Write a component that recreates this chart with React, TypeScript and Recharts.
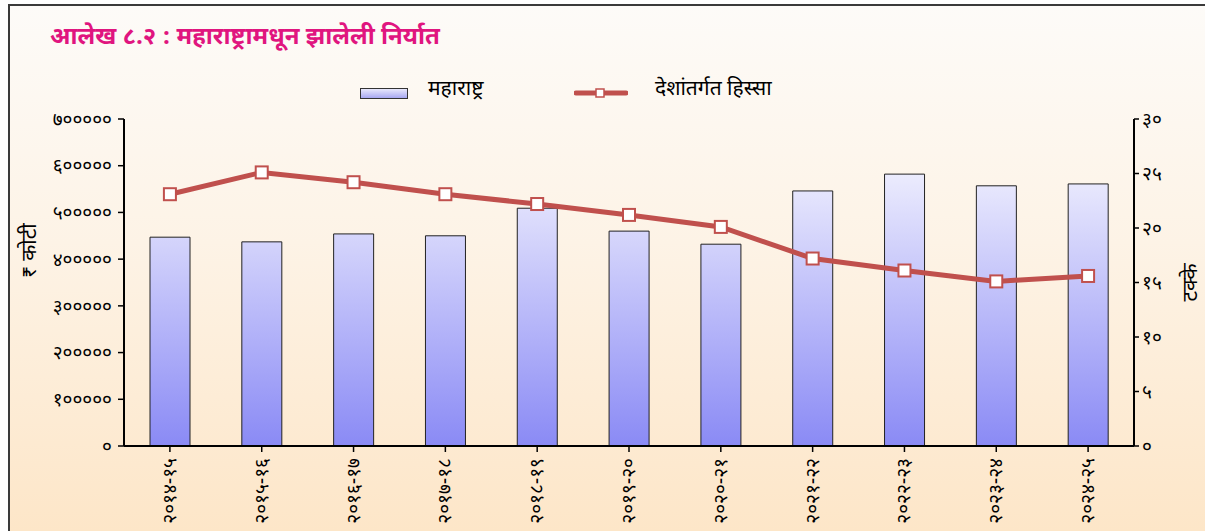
import { ComposedChart, Bar, Line, XAxis, YAxis } from 'recharts';

const years = ['२०१४-१५', '२०१५-१६', '२०१६-१७', '२०१७-१८', '२०१८-१९', '२०१९-२०', '२०२०-२१', '२०२१-२२', '२०२२-२३', '२०२३-२४', '२०२४-२५'];
const exports = [447000, 437000, 454000, 450000, 509000, 460000, 432000, 546000, 582000, 557000, 561000];
const share = [23.1, 25.1, 24.2, 23.1, 22.2, 21.2, 20.1, 17.2, 16.1, 15.1, 15.6];
const leftTicks = [0, 100000, 200000, 300000, 400000, 500000, 600000, 700000];
const rightTicks = [0, 5, 10, 15, 20, 25, 30];

const DIGITS = '०१२३४५६७८९';
const deva = (n: number) => String(n).replace(/[0-9]/g, d => DIGITS[Number(d)]);

const data = years.map((y, i) => ({ year: y, exp: exports[i], share: share[i] }));

const RED = '#c0504d';
const FONT = '"Noto Sans Devanagari", "Lohit Devanagari", "Noto Sans", sans-serif';

const W = 1195;
const H = 525;

function XTick({ x, y, payload }: any) {
  return (
    <g transform={`translate(${x},${y})`}>
      <text transform="rotate(-90)" x={-4} y={6} textAnchor="end" fontSize={19} fill="#000" fontFamily={FONT}>
        {payload.value}
      </text>
    </g>
  );
}

function SquareDot({ cx, cy }: any) {
  if (cx == null || cy == null) return null;
  return <rect x={cx - 6} y={cy - 6} width={12} height={12} fill="#fff" stroke={RED} strokeWidth={2} />;
}

// left axis title sits a bit above the middle of the axis, like the original
function LeftTitle({ viewBox }: any) {
  const cx = viewBox.x + 22;
  const cy = viewBox.y + viewBox.height / 2 - 32;
  return (
    <text transform={`translate(${cx},${cy}) rotate(-90)`} textAnchor="middle" fontSize={21} fill="#000" fontFamily={FONT}>
      ₹ कोटी
    </text>
  );
}

export default function App() {
  return (
    <div
      style={{
        position: 'absolute', left: 8, top: 4, width: 1197, height: 527, boxSizing: 'border-box',
        borderLeft: '2px solid #3a3a3a', borderTop: '2px solid #3a3a3a',
        background: 'linear-gradient(to bottom, #fdfbf8 0%, #fdf3e6 45%, #fde6c8 100%)',
        fontFamily: FONT,
      }}
    >
      <div style={{ position: 'absolute', left: 40, top: 16, fontSize: 24, fontWeight: 700, color: '#e0157f', whiteSpace: 'nowrap' }}>
        आलेख ८.२ : महाराष्ट्रामधून झालेली निर्यात
      </div>
      <div style={{ position: 'absolute', left: 0, top: 70, fontSize: 21, color: '#000', whiteSpace: 'nowrap' }}>
        <div style={{ position: 'absolute', left: 350, top: 12, width: 46, height: 9, border: '1px solid #333', background: 'linear-gradient(to bottom, #e8e8fc, #a8a8f2)' }} />
        <span style={{ position: 'absolute', left: 418, top: 0 }}>महाराष्ट्र</span>
        <svg style={{ position: 'absolute', left: 564, top: 9 }} width={54} height={16}>
          <line x1={2} y1={8} x2={52} y2={8} stroke={RED} strokeWidth={5} strokeLinecap="round" />
          <rect x={22} y={4} width={8} height={8} fill="#fff" stroke={RED} strokeWidth={1.5} />
        </svg>
        <span style={{ position: 'absolute', left: 645, top: 0 }}>देशांतर्गत हिस्सा</span>
      </div>
      <ComposedChart width={W} height={H} data={data} margin={{ top: 113, right: 15, left: 4, bottom: 15 }}>
        <defs>
          <linearGradient id="barFill" gradientUnits="userSpaceOnUse" x1={0} y1={113} x2={0} y2={440}>
            <stop offset="0%" stopColor="#ffffff" />
            <stop offset="100%" stopColor="#8a8af5" />
          </linearGradient>
        </defs>
        <XAxis
          dataKey="year"
          height={70}
          interval={0}
          tick={<XTick />}
          axisLine={{ stroke: '#000', strokeWidth: 2 }}
          tickLine={{ stroke: '#000', strokeWidth: 1.5 }}
          tickSize={6}
        />
        <YAxis
          yAxisId="left"
          width={110}
          domain={[0, 700000]}
          ticks={leftTicks}
          tickFormatter={deva}
          tick={{ fontSize: 19, fill: '#000', fontFamily: FONT }}
          axisLine={{ stroke: '#000', strokeWidth: 2 }}
          tickLine={{ stroke: '#000', strokeWidth: 1.5 }}
          tickSize={6}
          tickMargin={6}
          label={<LeftTitle />}
        />
        <YAxis
          yAxisId="right"
          orientation="right"
          width={56}
          domain={[0, 30]}
          ticks={rightTicks}
          tickFormatter={deva}
          tick={{ fontSize: 19, fill: '#000', fontFamily: FONT }}
          axisLine={{ stroke: '#000', strokeWidth: 2 }}
          tickLine={{ stroke: '#000', strokeWidth: 1.5 }}
          tickSize={5}
          tickMargin={3}
          label={{ value: 'टक्के', angle: -90, position: 'insideRight', offset: 0, style: { fontSize: 21, fill: '#000', fontFamily: FONT, textAnchor: 'middle' } }}
        />
        <Bar yAxisId="left" dataKey="exp" fill="url(#barFill)" stroke="#222" strokeWidth={1} barSize={40} isAnimationActive={false} />
        <Line
          yAxisId="right"
          dataKey="share"
          type="linear"
          stroke={RED}
          strokeWidth={5}
          dot={<SquareDot />}
          activeDot={false}
          isAnimationActive={false}
        />
      </ComposedChart>
    </div>
  );
}
